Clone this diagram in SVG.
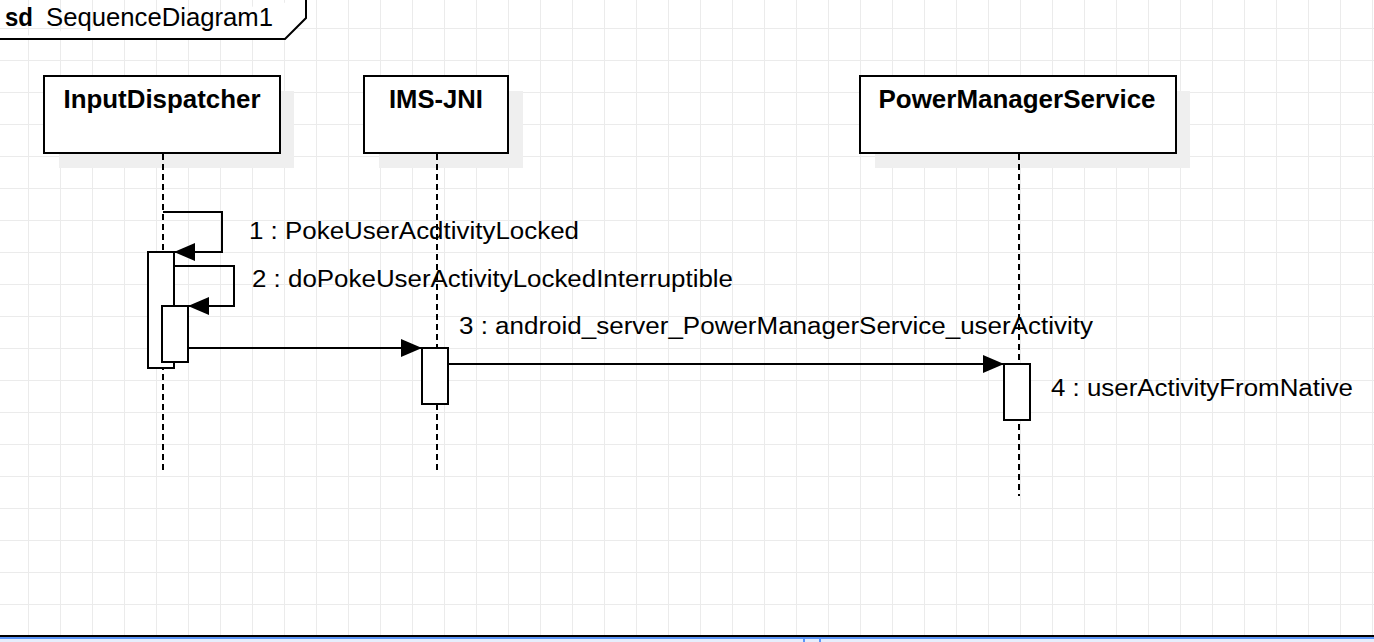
<svg xmlns="http://www.w3.org/2000/svg" width="1374" height="642" viewBox="0 0 1374 642">
<defs>
<pattern id="grid" x="28" y="28" width="32" height="32" patternUnits="userSpaceOnUse">
<path d="M0.5,0 V32 M0,0.5 H32" fill="none" stroke="#ebebeb" stroke-width="1"/>
</pattern>
<marker id="arrow" markerUnits="userSpaceOnUse" markerWidth="22" markerHeight="20" refX="21" refY="9" orient="auto">
<path d="M0,0 L21,9 L0,18 Z" fill="#000"/>
</marker>
<style>
.box{fill:#fff;stroke:#000;stroke-width:2}
.shadow{fill:#efefef}
.life{stroke:#000;stroke-width:2;stroke-dasharray:6,4;fill:none}
.act{fill:#fff;stroke:#000;stroke-width:2}
.msg{fill:none;stroke:#000;stroke-width:2;marker-end:url(#arrow)}
.title{font-family:"Liberation Sans",Arial,sans-serif;font-weight:bold;font-size:25px;text-anchor:middle;fill:#000}
.lbl{font-family:"Liberation Sans",Arial,sans-serif;font-size:23px;fill:#000}
</style>
</defs>
<rect width="1374" height="642" fill="#fff"/>
<rect width="1374" height="642" fill="url(#grid)"/>

<g id="frame">
<path d="M0,39 H285 L306,18 V0" fill="#fff" stroke="none"/>
<path d="M-2,39 H285 L306,18 V-2" fill="none" stroke="#000" stroke-width="2"/>
<text x="5" y="26" font-family="Liberation Sans, Arial, sans-serif" font-weight="bold" font-size="25" textLength="28" lengthAdjust="spacingAndGlyphs">sd</text>
<text x="46" y="26" font-family="Liberation Sans, Arial, sans-serif" font-size="25" textLength="227" lengthAdjust="spacingAndGlyphs">SequenceDiagram1</text>
</g>

<g id="InputDispatcher">
<rect class="shadow" x="59" y="91" width="235" height="77"/>
<rect class="box" x="44" y="76" width="236" height="77"/>
<text class="title" x="162" y="108" textLength="197" lengthAdjust="spacingAndGlyphs">InputDispatcher</text>
<line class="life" x1="163" y1="154" x2="163" y2="474"/>
</g>

<g id="IMS-JNI">
<rect class="shadow" x="379" y="91" width="144" height="77"/>
<rect class="box" x="364" y="76" width="144" height="77"/>
<text class="title" x="436" y="108" textLength="94" lengthAdjust="spacingAndGlyphs">IMS-JNI</text>
<line class="life" x1="437" y1="154" x2="437" y2="474"/>
</g>

<g id="PowerManagerService">
<rect class="shadow" x="875" y="91" width="315" height="77"/>
<rect class="box" x="860" y="76" width="316" height="77"/>
<text class="title" x="1017" y="108" textLength="277" lengthAdjust="spacingAndGlyphs">PowerManagerService</text>
<line class="life" x1="1019" y1="154" x2="1019" y2="496"/>
</g>

<g id="activations">
<rect class="act" x="148" y="252" width="26" height="116"/>
<rect class="act" x="162" y="306" width="26" height="56"/>
<rect class="act" x="422" y="348" width="26" height="56"/>
<rect class="act" x="1004" y="364" width="26" height="56"/>
</g>

<g id="connectors">
<path class="msg" d="M163,212 H222 V252 H174"/>
<path class="msg" d="M174,266 H234 V306 H188"/>
<path class="msg" d="M188,348 H422"/>
<path class="msg" d="M448,364 H1004"/>
<text class="lbl" x="249" y="239" textLength="330" lengthAdjust="spacingAndGlyphs">1 : PokeUserAcdtivityLocked</text>
<text class="lbl" x="252" y="287" textLength="481" lengthAdjust="spacingAndGlyphs">2 : doPokeUserActivityLockedInterruptible</text>
<text class="lbl" x="459" y="334" textLength="634" lengthAdjust="spacingAndGlyphs">3 : android_server_PowerManagerService_userActivity</text>
<text class="lbl" x="1051" y="396" textLength="302" lengthAdjust="spacingAndGlyphs">4 : userActivityFromNative</text>
</g>

<g id="bottom-bar">
<rect x="0" y="635" width="1374" height="2" fill="#000"/>
<rect x="0" y="637" width="1374" height="2" fill="#5b95f9"/>
<rect x="0" y="639" width="1374" height="3" fill="#e6eefc"/>
<rect x="803" y="637" width="2" height="5" fill="#5b95f9"/>
<rect x="819" y="637" width="2" height="5" fill="#5b95f9"/>
</g>
</svg>
